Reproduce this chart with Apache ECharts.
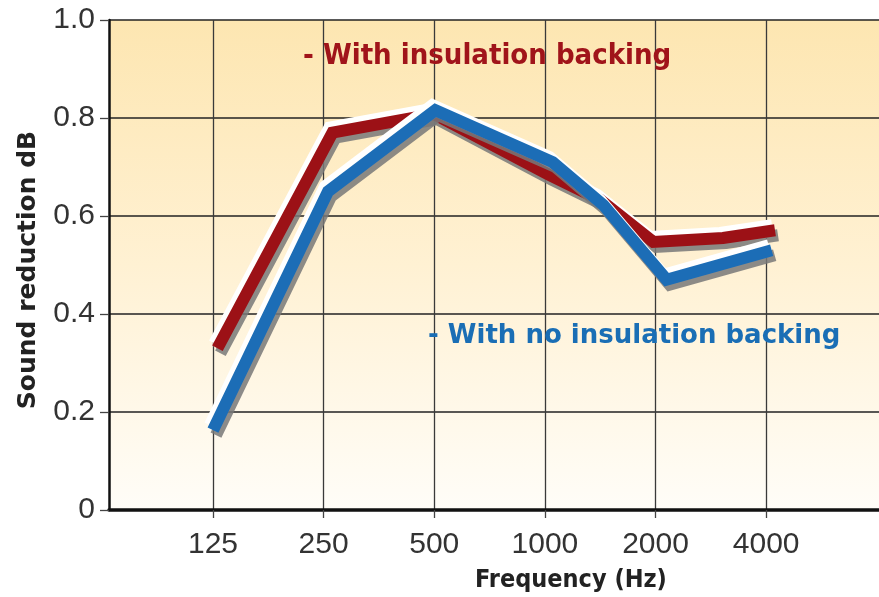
<!DOCTYPE html>
<html>
<head>
<meta charset="utf-8">
<script src="https://cdn.jsdelivr.net/npm/echarts@6/dist/echarts.min.js"></script>
<style>
html,body{margin:0;padding:0;background:#fff;}
#chart{width:879px;height:597px;}
</style>
</head>
<body>
<div id="chart"></div>
<script>
// Frequency categories (tick labels)
var freqLabels = ['125', '250', '500', '1000', '2000', '4000'];
var yTicks = [0, 0.2, 0.4, 0.6, 0.8, 1.0];

// With insulation backing (x in category-index units)
var redX = [0.04, 1.08, 2.0, 3.03, 3.5, 3.98, 4.61, 5.08];
var redY = [0.33, 0.77, 0.808, 0.685, 0.633, 0.547, 0.555, 0.571];

// With no insulation backing
var blueX = [0, 1.04, 2.01, 3.07, 3.53, 4.1, 5.05];
var blueY = [0.163, 0.65, 0.816, 0.71, 0.622, 0.47, 0.53];

var redLabel = '- With insulation backing';
var blueLabel = '- With no insulation backing';
var yName = 'Sound reduction dB';
var xName = 'Frequency (Hz)';

function pairs(xs, ys) { return xs.map(function (x, i) { return [x, ys[i]]; }); }

var RED = '#9c1116', BLUE = '#1c6db6';

function lineSeries(data, color, shadowColor, ox, oy) {
  return {
    type: 'line', data: data, symbol: 'none', silent: true, animation: false,
    lineStyle: { color: color, width: 12, cap: 'butt', join: 'miter',
      shadowColor: shadowColor, shadowBlur: 0, shadowOffsetX: ox, shadowOffsetY: oy }
  };
}

var redData = pairs(redX, redY), blueData = pairs(blueX, blueY);

var chart = echarts.init(document.getElementById('chart'), null, { renderer: 'canvas' });
chart.setOption({
  backgroundColor: '#ffffff',
  animation: false,
  grid: {
    left: 109, right: 0, top: 20, bottom: 87, show: true, borderWidth: 0,
    backgroundColor: new echarts.graphic.LinearGradient(0, 0, 0, 1, [
      { offset: 0, color: '#fde6b1' },
      { offset: 0.5, color: '#fff1d3' },
      { offset: 1, color: '#fffdf8' }
    ])
  },
  xAxis: {
    type: 'value', min: -0.94, max: 6.02,
    axisLine: { show: true, onZero: false, lineStyle: { color: '#111', width: 3.5 } },
    axisTick: { show: true, length: 8, customValues: [0, 1, 2, 3, 4, 5], lineStyle: { color: '#444', width: 1.3 } },
    axisLabel: {
      customValues: [0, 1, 2, 3, 4, 5], margin: 20,
      formatter: function (v) { return freqLabels[Math.round(v)] || ''; },
      color: '#333', fontSize: 30, fontFamily: 'Liberation Sans'
    },
    splitLine: { show: true, lineStyle: { color: '#3a3a3a', width: 1.3 } }
  },
  yAxis: {
    type: 'value', min: 0, max: 1, interval: 0.2,
    axisLine: { show: true, onZero: false, lineStyle: { color: '#111', width: 2.5 } },
    axisTick: { show: true, length: 9, lineStyle: { color: '#444', width: 1.3 } },
    axisLabel: {
      margin: 14, color: '#333', fontSize: 30, fontFamily: 'Liberation Sans',
      formatter: function (v) { return v === 0 ? '0' : v.toFixed(1); }
    },
    splitLine: { show: true, lineStyle: { color: '#222', width: 1.6 } }
  },
  series: [
    lineSeries(redData, '#ffffff', '#ffffff', -3, -5),
    lineSeries(redData, RED, 'rgba(120,120,120,0.85)', 3, 5),
    lineSeries(blueData, '#ffffff', '#ffffff', -3, -5),
    lineSeries(blueData, BLUE, 'rgba(120,120,120,0.85)', 3, 5)
  ],
  graphic: [
    { type: 'text', left: 303, top: 42, z: 10, silent: true,
      style: { text: redLabel, fill: '#a0141a', font: 'bold 29px "DejaVu Sans Condensed", "Liberation Sans Narrow", sans-serif' } },
    { type: 'text', left: 428, top: 323, z: 10, silent: true,
      style: { text: blueLabel, fill: '#1a6eb5', font: 'bold 26px "DejaVu Sans", sans-serif' } },
    { type: 'text', x: 28, y: 270, rotation: Math.PI / 2, z: 10, silent: true,
      style: { text: yName, fill: '#222', align: 'center', verticalAlign: 'middle', font: 'bold 25px "DejaVu Sans", sans-serif' } },
    { type: 'text', x: 571, y: 580, z: 10, silent: true,
      style: { text: xName, fill: '#222', align: 'center', verticalAlign: 'middle', font: 'bold 25px "DejaVu Sans Condensed", "Liberation Sans Narrow", sans-serif' } }
  ]
});
</script>
</body>
</html>
